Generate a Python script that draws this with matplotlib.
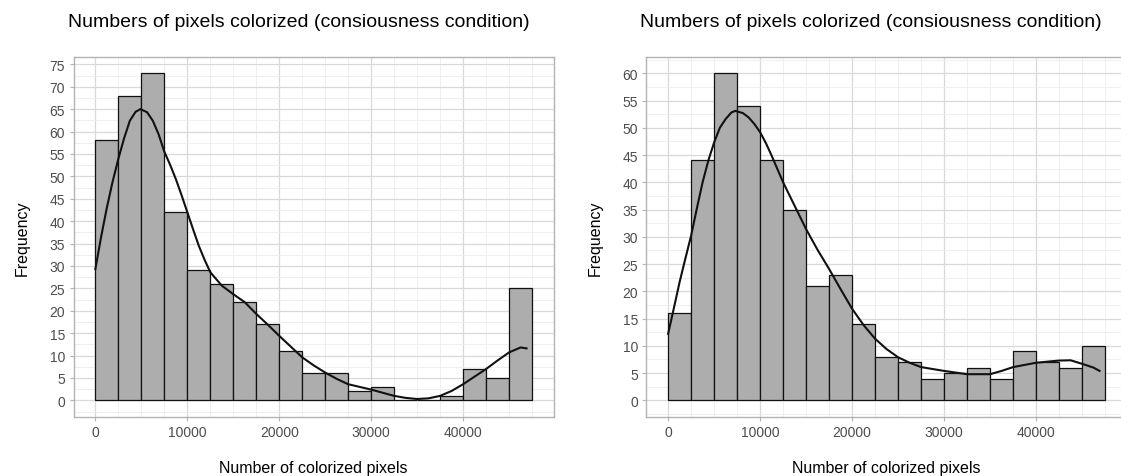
import numpy as np
import matplotlib
matplotlib.use("Agg")
import matplotlib.pyplot as plt
from matplotlib.ticker import MultipleLocator

plt.rcParams['font.family'] = ['Liberation Sans', 'DejaVu Sans']

# histogram bins (width 2500)
bin_edges = [0, 2500, 5000, 7500, 10000, 12500, 15000, 17500, 20000, 22500,
             25000, 27500, 30000, 32500, 35000, 37500, 40000, 42500, 45000, 47500]

left_counts = [58, 68, 73, 42, 29, 26, 22, 17, 11, 6, 6, 2, 3, 0, 0, 1, 7, 5, 25]
right_counts = [16, 44, 60, 54, 44, 35, 21, 23, 14, 8, 7, 4, 5, 6, 4, 9, 7, 6, 10]

# density curves (in count units)
left_curve_x = [0, 625, 1250, 1875, 2500, 3125, 3750, 4375, 4900, 5625, 6250, 6875,
                7500, 8125, 8750, 9375, 10000, 10625, 11250, 11875, 12500,
                13750, 15000, 16250, 17500, 18750, 20000, 21250, 22500, 23750,
                25000, 26250, 27500, 28750, 30000, 31250, 32500, 33750, 35000,
                36250, 37500, 38750, 40000, 41250, 42500, 43750, 45000, 46250, 46900]
left_curve_y = [29.3, 36.5, 43.0, 48.8, 53.9, 58.5, 62.4, 64.4, 65.0, 64.3, 62.4, 59.4,
                55.5, 52.6, 49.4, 45.8, 42.0, 38.2, 34.5, 31.4, 28.6,
                25.6, 23.7, 21.9, 19.3, 16.9, 14.4, 12.0, 9.6, 7.8,
                6.2, 4.8, 3.6, 3.0, 2.4, 1.7, 1.0, 0.55, 0.3,
                0.45, 1.0, 2.1, 3.6, 5.3, 7.0, 8.9, 10.7, 11.8, 11.6]

right_curve_x = [0, 625, 1250, 1875, 2500, 3125, 3750, 4375, 5000, 5625, 6250, 6875,
                 7300, 8125, 8750, 9375, 10000, 10625, 11250, 12500,
                 13750, 15000, 16250, 17500, 18750, 20000, 21250, 22500, 23750,
                 25000, 26250, 27500, 30000, 32500, 35000, 36250, 37500, 40000,
                 42500, 43750, 45000, 46250, 46900]
right_curve_y = [12.2, 16.9, 21.7, 26.0, 30.2, 35.2, 40.0, 44.0, 47.3, 50.0, 51.6, 52.8,
                 53.1, 52.7, 51.9, 50.7, 49.2, 47.2, 44.9, 40.0,
                 35.7, 31.4, 27.6, 24.1, 20.4, 16.8, 13.8, 11.3, 9.4,
                 7.9, 6.9, 6.1, 5.4, 4.8, 4.8, 5.4, 6.1, 6.9,
                 7.3, 7.35, 6.7, 6.0, 5.4]

title = "Numbers of pixels colorized (consiousness condition)"

fig = plt.figure(figsize=(11.21, 4.77), dpi=100)
ax1 = fig.add_axes([0.0656, 0.1243, 0.4285, 0.7543])
ax2 = fig.add_axes([0.5765, 0.1243, 0.4288, 0.7543])


def draw_panel(ax, counts, cx, cy, ymax):
    width = bin_edges[1] - bin_edges[0]
    ax.bar(bin_edges[:-1], counts, width=width, align='edge',
           color='#adadad', edgecolor='#111111', linewidth=0.9, zorder=2)
    ax.plot(cx, cy, color='#111111', linewidth=1.5, zorder=3,
            solid_joinstyle='round')

    ax.set_xlim(-0.05 * 47500, 47500 * 1.05)
    ax.set_ylim(-0.05 * ymax, ymax * 1.05)

    ax.xaxis.set_major_locator(MultipleLocator(10000))
    ax.xaxis.set_minor_locator(MultipleLocator(2500))
    ax.yaxis.set_major_locator(MultipleLocator(5))
    ax.yaxis.set_minor_locator(MultipleLocator(2.5))
    ax.set_xticks([0, 10000, 20000, 30000, 40000])
    ax.set_xticklabels(['0', '10000', '20000', '30000', '40000'])

    ax.grid(which='major', color='#d9d9d9', linewidth=0.9, zorder=0)
    ax.grid(which='minor', color='#ececec', linewidth=0.6, zorder=0)
    ax.set_axisbelow(True)

    ax.tick_params(which='major', length=3, color='#b3b3b3', labelsize=10,
                   labelcolor='#4d4d4d', pad=3)
    ax.tick_params(which='minor', length=0)
    for s in ax.spines.values():
        s.set_color('#b3b3b3')
        s.set_linewidth(1.0)

    ax.set_xlabel("Number of colorized pixels", fontsize=11.5, labelpad=15)
    ax.set_ylabel("Frequency", fontsize=11.5, labelpad=14)
    ax.set_title(title, fontsize=14, loc='left', pad=22, x=-0.012)


draw_panel(ax1, left_counts, left_curve_x, left_curve_y, 73)
draw_panel(ax2, right_counts, right_curve_x, right_curve_y, 60)

fig.savefig("out.png", dpi=100)
